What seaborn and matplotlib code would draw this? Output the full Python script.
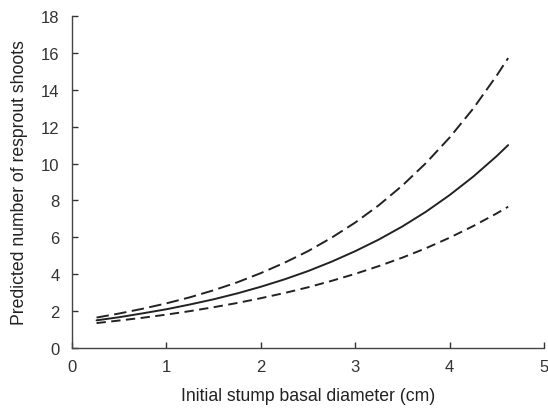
import matplotlib
matplotlib.use("Agg")
import matplotlib.pyplot as plt
import seaborn as sns
import pandas as pd

diameter = [0.26, 0.5, 0.75, 1.0, 1.25, 1.5, 1.75, 2.0, 2.25, 2.5, 2.75, 3.0,
            3.25, 3.5, 3.75, 4.0, 4.25, 4.5, 4.62]
predicted = [1.50, 1.67, 1.88, 2.10, 2.36, 2.64, 2.96, 3.32, 3.72, 4.17, 4.68, 5.25,
             5.88, 6.59, 7.39, 8.29, 9.29, 10.41, 11.00]
upper_ci = [1.65, 1.87, 2.13, 2.42, 2.75, 3.13, 3.56, 4.06, 4.62, 5.25, 5.98, 6.80,
            7.74, 8.81, 10.03, 11.41, 12.98, 14.78, 15.72]
lower_ci = [1.35, 1.49, 1.64, 1.81, 2.00, 2.21, 2.44, 2.70, 2.98, 3.29, 3.64, 4.02,
            4.44, 4.90, 5.41, 5.98, 6.61, 7.30, 7.66]
xticks = [0, 1, 2, 3, 4, 5]
yticks = [0, 2, 4, 6, 8, 10, 12, 14, 16, 18]

sns.set_style("ticks")
plt.rcParams['font.family'] = ['Liberation Sans', 'DejaVu Sans']

df = pd.DataFrame({"x": diameter, "pred": predicted, "up": upper_ci, "lo": lower_ci})

fig = plt.figure(figsize=(5.48, 4.10), dpi=100)
ax = fig.add_axes([0.1314, 0.1488, 0.8613, 0.8097])

col = "#222222"
sns.lineplot(data=df, x="x", y="up", ax=ax, color=col, lw=1.4,
             linestyle=(0, (6.4, 2.8)))
sns.lineplot(data=df, x="x", y="pred", ax=ax, color=col, lw=1.4)
sns.lineplot(data=df, x="x", y="lo", ax=ax, color=col, lw=1.4,
             linestyle=(0, (4.8, 2.8)))

ax.set_xlim(0, 5)
ax.set_ylim(0, 18)
ax.set_xticks(xticks)
ax.set_yticks(yticks)
ax.tick_params(direction="in", length=4, width=1, colors="#333333", labelsize=12,
               pad=8)
ax.tick_params(axis="y", pad=9)
for lab in ax.get_xticklabels() + ax.get_yticklabels():
    lab.set_color("#333333")
for s in ["top", "right"]:
    ax.spines[s].set_visible(False)
for s in ["left", "bottom"]:
    ax.spines[s].set_color("#444444")
    ax.spines[s].set_linewidth(1.0)

ax.set_xlabel("Initial stump basal diameter (cm)", fontsize=12.7, color="#222222", labelpad=9)
ax.set_ylabel("Predicted number of resprout shoots", fontsize=12.7, color="#222222", labelpad=9)

fig.savefig("out.png", dpi=100)
